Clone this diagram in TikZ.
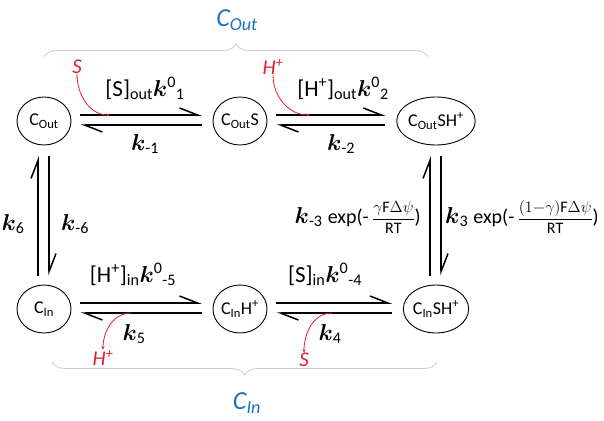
\RequirePackage{fix-cm}
\documentclass[tikz,border=0pt]{standalone}
\usepackage{amsmath}
\usepackage{fontspec}
\setmainfont{Carlito}
\usetikzlibrary{arrows.meta,shapes.geometric,decorations.pathreplacing}
\definecolor{poolblue}{RGB}{30,115,190}
\definecolor{ionred}{RGB}{226,32,46}
\definecolor{bracegray}{RGB}{200,204,212}
\newcommand{\rk}{\ensuremath{\boldsymbol{k}}}
\newcommand{\potfrac}[2]{{\fontsize{16}{18}\selectfont$\displaystyle\frac{#1}{#2}$}}

\begin{document}
\begin{tikzpicture}[
  x=1pt, y=-1pt,
  species/.style={ellipse, draw, line width=0.9pt, minimum width=54pt, minimum height=48pt, inner sep=0pt, font=\fontsize{18}{19}\selectfont},
  rate/.style={inner sep=0pt, anchor=base, font=\fontsize{23}{26}\selectfont},
  ion/.style={inner sep=0pt, text=ionred, font=\fontsize{21}{23}\selectfont\itshape},
  pool/.style={inner sep=0pt, text=poolblue, font=\fontsize{26}{29}\selectfont\itshape},
  harp/.style={line width=1.5pt, -{Straight Barb[left, length=18pt, width=14pt]}},
  bind/.style={draw=ionred, line width=0.8pt, -{Stealth[length=4pt, width=3pt]}},
  pbrace/.style={draw=bracegray, line width=0.8pt, decorate, decoration={brace, amplitude=13pt}}
]
\def\xA{44}
\def\xB{240}
\def\xC{436}
\def\yTop{121}
\def\yBot{309}
\useasboundingbox (0,0) rectangle (604,420);

% carrier states
\node[species] (cout) at (\xA,\yTop) {C\textsubscript{Out}};
\node[species] (couts) at (\xB,\yTop) {C\textsubscript{Out}S};
\node[species] (coutsh) at (\xC,\yTop) {C\textsubscript{Out}SH\textsuperscript{+}};
\node[species] (cin) at (\xA,\yBot) {C\textsubscript{In}};
\node[species] (cinh) at (\xB,\yBot) {C\textsubscript{In}H\textsuperscript{+}};
\node[species] (cinsh) at (\xC,\yBot) {C\textsubscript{In}SH\textsuperscript{+}};

% rate constants
\node[rate] (k1) at (145,96) {[S]\textsubscript{out}\rk\textsuperscript{0}\textsubscript{1}};
\node[rate] (k2) at (343,96) {[H\textsuperscript{+}]\textsubscript{out}\rk\textsuperscript{0}\textsubscript{2}};
\node[rate] (km1) at (145,150) {\rk\textsubscript{-1}};
\node[rate] (km2) at (341,150) {\rk\textsubscript{-2}};
\node[rate] (km5) at (133,282) {[H\textsuperscript{+}]\textsubscript{in}\rk\textsuperscript{0}\textsubscript{-5}};
\node[rate] (km4) at (325,282) {[S]\textsubscript{in}\rk\textsuperscript{0}\textsubscript{-4}};
\node[rate] (k5) at (134,340) {\rk\textsubscript{5}};
\node[rate] (k4) at (330,340) {\rk\textsubscript{4}};
\node[rate] (k6) at (13,230) {\rk\textsubscript{6}};
\node[rate] (km6) at (75,230) {\rk\textsubscript{-6}};
\node[rate, anchor=base east] (km3) at (421,223) {\rk\textsubscript{-3} {\fontsize{20}{22}\selectfont exp(-\,\potfrac{\gamma\mathrm{F}\Delta\psi}{\mathrm{RT}})}};
\node[rate, anchor=base west] (k3) at (445,223) {\rk\textsubscript{3} {\fontsize{20}{22}\selectfont exp(-\,\potfrac{(1{-}\gamma)\mathrm{F}\Delta\psi}{\mathrm{RT}})}};

% ions
\node[ion] (sout) at (77,67) {S};
\node[ion] (hout) at (273,67) {H\textsuperscript{+}};
\node[ion] (hin) at (103,358) {H\textsuperscript{+}};
\node[ion] (sin) at (304,360) {S};
\coordinate (sbind) at (110,115);
\coordinate (hbind) at (310,115);
\coordinate (hfree) at (131,313);
\coordinate (sfree) at (332,313);

% pools
\node[pool] (poolout) at (237,20) {C\textsubscript{Out}};
\node[pool] (poolin) at (247,403) {C\textsubscript{In}};
\coordinate (outL) at (44,57);
\coordinate (outR) at (428,57);
\coordinate (inL) at (52,362);
\coordinate (inR) at (437,362);

\draw[harp] ([shift={(9,-6)}]cout.east) -- ([shift={(-11,-6)}]couts.west);
\draw[harp] ([shift={(-11,4)}]couts.west) -- ([shift={(9,4)}]cout.east);
\draw[harp] ([shift={(9,-6)}]couts.east) -- ([shift={(-11,-6)}]coutsh.west);
\draw[harp] ([shift={(-11,4)}]coutsh.west) -- ([shift={(9,4)}]couts.east);
\draw[harp] ([shift={(9,-6)}]cin.east) -- ([shift={(-11,-6)}]cinh.west);
\draw[harp] ([shift={(-11,4)}]cinh.west) -- ([shift={(9,4)}]cin.east);
\draw[harp] ([shift={(9,-6)}]cinh.east) -- ([shift={(-11,-6)}]cinsh.west);
\draw[harp] ([shift={(-11,4)}]cinsh.west) -- ([shift={(9,4)}]cinh.east);
\draw[harp] ([shift={(-6,-9)}]cin.north) -- ([shift={(-6,11)}]cout.south);
\draw[harp] ([shift={(5,11)}]cout.south) -- ([shift={(5,-9)}]cin.north);
\draw[harp] ([shift={(-6,-9)}]cinsh.north) -- ([shift={(-6,11)}]coutsh.south);
\draw[harp] ([shift={(5,11)}]coutsh.south) -- ([shift={(5,-9)}]cinsh.north);

\draw[bind] (sout.south) to[out=-90, in=180] (sbind);
\draw[bind] (hout.south) to[out=-90, in=180] (hbind);
\draw[bind] (hfree) to[out=180, in=90] (hin.north);
\draw[bind] (sfree) to[out=180, in=90] (sin.north);

\draw[pbrace] (outL) -- (outR);
\draw[pbrace] (inR) -- (inL);
\end{tikzpicture}
\end{document}
